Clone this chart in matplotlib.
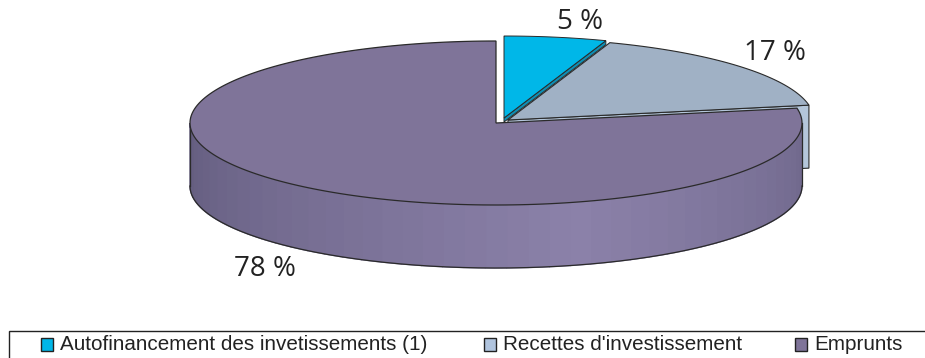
import numpy as np
import matplotlib
matplotlib.use('Agg')
import matplotlib.pyplot as plt
from matplotlib.patches import Rectangle

labels = ["Autofinancement des invetissements (1)", "Recettes d'investissement", "Emprunts"]
shares = [5.4, 16.7, 77.9]
colors = ['#00b7e8', '#a0b1c5', '#7f7499']
legend_colors = ['#00b7e8', '#b0c4de', '#7f7499']
pct_labels = ['5 %', '17 %', '78 %']
pct_pos = [(580, 22), (775, 53), (265, 269)]
legend_box_x = [41, 484, 795]

# pie geometry, in pixels
cx, cy = 496, 123
rx, ry = 306, 82
depth = 63
offsets = [(8, -5), (12, -3), (0, 0)]
edge = '#2a2a2a'

fig = plt.figure(figsize=(9.25, 3.58), dpi=100)
ax = fig.add_axes([0, 0, 1, 1])
ax.set_xlim(0, 925)
ax.set_ylim(358, 0)
ax.axis('off')


def rim(theta, off=(0, 0), down=0):
    t = np.radians(theta)
    return cx + off[0] + rx * np.sin(t), cy + off[1] - ry * np.cos(t) + down


def slice_top(a, b, off):
    th = np.linspace(a, b, 200)
    x, y = rim(th, off)
    return np.r_[cx + off[0], x], np.r_[cy + off[1], y]


ends = np.cumsum(shares) / sum(shares) * 360
starts = np.r_[0, ends[:-1]]

# grey slice: cut face first, then top
a, b = starts[1], ends[1]
ox = offsets[1]
xe, ye = rim(b, ox)
ax.fill([cx + ox[0], xe, xe, cx + ox[0]], [cy + ox[1], ye, ye + depth, cy + ox[1] + depth],
        facecolor='#b4c6da', edgecolor=edge, lw=0.8, zorder=1)
x, y = slice_top(a, b, ox)
ax.fill(x, y, facecolor=colors[1], edgecolor=edge, lw=0.8, zorder=2)

# blue slice, with a thin strip of its cut face
a, b = starts[0], ends[0]
ox = offsets[0]
xe, ye = rim(b, ox)
ax.fill([cx + ox[0], xe, xe, cx + ox[0]], [cy + ox[1], ye, ye + 4, cy + ox[1] + 4],
        facecolor='#0f8fb4', edgecolor=edge, lw=0.7, zorder=3)
x, y = slice_top(a, b, ox)
ax.fill(x, y, facecolor=colors[0], edgecolor=edge, lw=0.7, zorder=3)

# purple slice: shaded wall then top
a, b = starts[2], ends[2]
dark = np.array(matplotlib.colors.to_rgb('#635c7e'))
light = np.array(matplotlib.colors.to_rgb('#8b81a9'))
steps = np.arange(90, 270 + 1e-6, 4.0)
for t0 in steps[:-1]:
    t1 = t0 + 4.0
    th = np.linspace(t0, t1, 5)
    xt, yt = rim(th)
    k = 1 - abs((t0 + 2) - 165) / 105
    c = dark + (light - dark) * np.clip(k, 0, 1)
    ax.fill(np.r_[xt, xt[::-1]], np.r_[yt, yt[::-1] + depth], facecolor=c, edgecolor=c, lw=1.0, zorder=4)
th = np.linspace(90, 270, 300)
xt, yt = rim(th)
ax.plot(xt, yt + depth, color=edge, lw=0.9, zorder=5)
ax.plot([xt[0], xt[0]], [yt[0], yt[0] + depth], color=edge, lw=0.9, zorder=5)
ax.plot([xt[-1], xt[-1]], [yt[-1], yt[-1] + depth], color=edge, lw=0.9, zorder=5)
x, y = slice_top(a, b, offsets[2])
ax.fill(x, y, facecolor=colors[2], edgecolor=edge, lw=0.9, zorder=6)

for txt, (px, py) in zip(pct_labels, pct_pos):
    ax.text(px, py, txt, fontsize=20, family='Open Sans', color='#222222', ha='center', va='center', zorder=7)

# legend
ax.add_patch(Rectangle((9, 331), 930, 40, facecolor='white', edgecolor='#222222', lw=1, zorder=7))
for name, c, bx in zip(labels, legend_colors, legend_box_x):
    ax.add_patch(Rectangle((bx, 338), 12, 13, facecolor=c, edgecolor='#222222', lw=1, zorder=8))
    ax.text(bx + 19, 344, name, fontsize=14.9, family='Liberation Sans', color='#222222', va='center', zorder=8)

fig.savefig('out.png', dpi=100)
